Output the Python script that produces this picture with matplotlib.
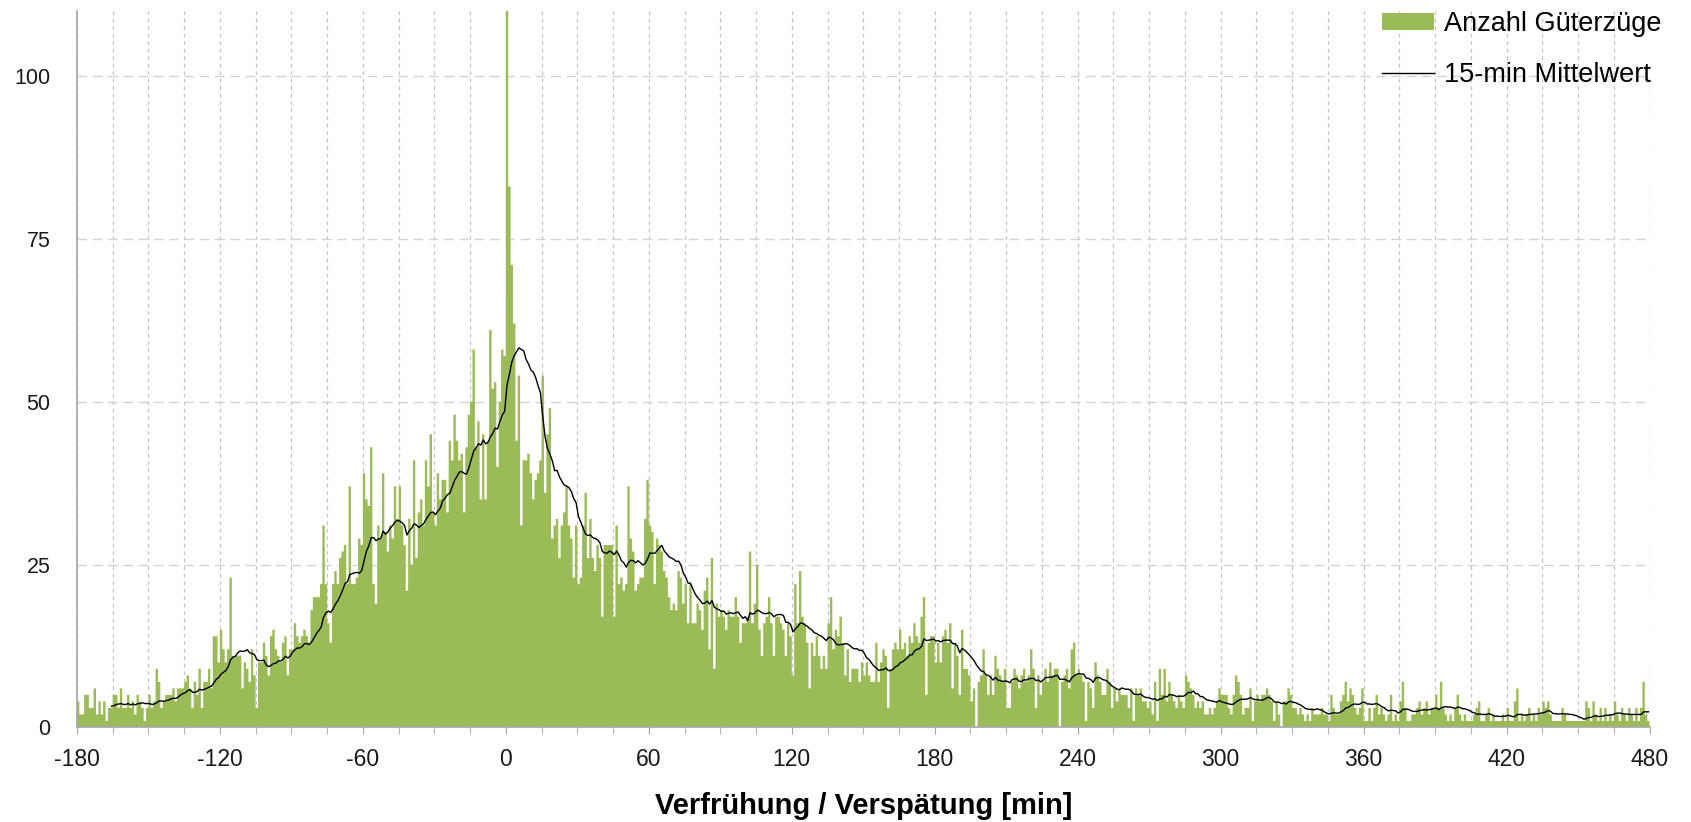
import matplotlib
matplotlib.use("Agg")
import matplotlib.pyplot as plt
from matplotlib.ticker import MultipleLocator, FixedLocator
from matplotlib.lines import Line2D
from matplotlib.patches import Patch
import numpy as np
import pandas as pd

plt.rcParams["font.family"] = ["Liberation Sans", "DejaVu Sans"]
plt.rcParams["axes.unicode_minus"] = False

# Anzahl Güterzüge je Minute Verfrühung/Verspätung, ein Array pro Stunde
counts_m180 = [4, 2, 2, 5, 5, 3, 3, 6, 2, 4, 2, 4, 1, 3, 3,
               5, 5, 3, 6, 3, 3, 5, 3, 4, 2, 5, 4, 3, 1, 3,
               5, 3, 4, 9, 7, 3, 4, 5, 5, 5, 6, 4, 6, 6, 6,
               7, 8, 6, 3, 7, 5, 9, 3, 7, 7, 9, 6, 14, 14, 10]
counts_m120 = [15, 12, 10, 12, 23, 11, 11, 11, 11, 6, 10, 9, 7, 12, 8,
               3, 10, 10, 13, 11, 8, 14, 15, 12, 11, 10, 13, 14, 8, 12,
               12, 16, 14, 13, 14, 15, 14, 13, 18, 20, 20, 20, 22, 31, 22,
               16, 13, 22, 24, 22, 26, 27, 28, 22, 37, 22, 22, 23, 29, 28]
counts_m60 = [39, 35, 34, 43, 22, 19, 31, 29, 39, 30, 27, 31, 29, 37, 32,
              37, 31, 28, 21, 32, 25, 41, 26, 33, 35, 31, 41, 37, 45, 33,
              31, 39, 35, 38, 38, 33, 44, 41, 48, 44, 41, 42, 33, 43, 48,
              50, 58, 43, 47, 35, 45, 35, 44, 61, 52, 53, 40, 50, 58, 57]
counts_0 = [110, 83, 71, 62, 44, 54, 31, 41, 41, 42, 39, 35, 38, 39, 41,
            54, 36, 45, 49, 29, 31, 32, 26, 31, 33, 37, 31, 29, 23, 31,
            22, 23, 31, 36, 26, 32, 26, 24, 28, 26, 17, 28, 28, 28, 28,
            17, 31, 22, 23, 21, 22, 37, 29, 27, 21, 22, 23, 23, 32, 38]
counts_60 = [31, 30, 22, 29, 28, 27, 24, 23, 20, 18, 19, 18, 24, 23, 19,
             22, 16, 22, 16, 16, 19, 18, 15, 21, 23, 12, 26, 9, 19, 17,
             18, 17, 15, 18, 17, 17, 20, 17, 13, 16, 16, 17, 27, 16, 19,
             25, 15, 11, 16, 17, 20, 16, 11, 17, 17, 16, 15, 11, 16, 14]
counts_120 = [8, 22, 16, 24, 17, 16, 13, 6, 13, 11, 14, 11, 9, 11, 9,
              16, 20, 12, 15, 14, 17, 13, 8, 12, 7, 9, 9, 9, 7, 10,
              8, 10, 8, 7, 7, 13, 7, 10, 12, 11, 3, 9, 12, 13, 12,
              15, 12, 13, 11, 14, 13, 16, 14, 13, 17, 20, 5, 13, 14, 14]
counts_180 = [10, 13, 10, 14, 15, 13, 16, 6, 13, 11, 5, 15, 9, 9, 8,
              4, 6, 0, 7, 8, 12, 8, 5, 8, 5, 11, 9, 8, 7, 9,
              3, 3, 7, 9, 8, 6, 8, 9, 7, 8, 12, 9, 3, 8, 5,
              7, 9, 7, 10, 8, 9, 9, 0, 7, 8, 9, 6, 12, 13, 8]
counts_240 = [9, 8, 7, 1, 7, 6, 3, 10, 8, 7, 5, 5, 9, 7, 3,
              6, 4, 6, 5, 5, 5, 3, 6, 1, 6, 5, 6, 4, 4, 3,
              4, 2, 7, 1, 9, 5, 9, 4, 7, 5, 4, 3, 5, 4, 3,
              8, 7, 6, 5, 3, 4, 3, 4, 2, 2, 3, 2, 3, 4, 6]
counts_300 = [5, 5, 5, 3, 2, 5, 8, 7, 5, 2, 3, 3, 6, 1, 4,
              5, 4, 5, 5, 6, 5, 4, 1, 4, 2, 0, 4, 4, 6, 5,
              3, 3, 2, 3, 2, 1, 2, 1, 3, 2, 2, 2, 3, 2, 2,
              1, 5, 3, 2, 2, 4, 5, 7, 4, 6, 5, 3, 2, 3, 6]
counts_360 = [1, 1, 3, 1, 3, 5, 2, 3, 2, 1, 2, 5, 1, 2, 1,
              4, 7, 3, 1, 1, 2, 2, 3, 4, 2, 3, 4, 2, 3, 3,
              5, 3, 7, 3, 2, 1, 2, 1, 3, 5, 2, 1, 2, 1, 1,
              1, 2, 3, 4, 1, 1, 2, 3, 1, 2, 1, 1, 1, 2, 1]
counts_420 = [3, 1, 1, 4, 6, 1, 2, 1, 2, 3, 1, 2, 1, 3, 2,
              4, 3, 4, 2, 1, 1, 1, 1, 3, 2, 1, 1, 1, 1, 1,
              1, 1, 1, 4, 3, 1, 4, 2, 1, 3, 1, 3, 1, 2, 1,
              4, 2, 1, 3, 2, 1, 3, 2, 1, 3, 1, 3, 7, 2, 1]

counts = np.concatenate([counts_m180, counts_m120, counts_m60, counts_0,
                         counts_60, counts_120, counts_180, counts_240,
                         counts_300, counts_360, counts_420])
edges = np.arange(-180, 481)
ma15 = pd.Series(counts).rolling(15).mean()

fig = plt.figure(figsize=(16.91, 8.22), dpi=100)
ax = fig.add_axes([0.0455, 0.115, 0.930, 0.872])

ax.stairs(counts, edges, fill=True, color="#9bbb59", linewidth=0,
          zorder=2)
ax.plot(edges[:-1] + 0.5, ma15, color="black", linewidth=1.0, zorder=3)

ax.set_xlim(-180, 480)
ax.set_ylim(0, 110)
ax.xaxis.set_major_locator(MultipleLocator(60))
ax.xaxis.set_minor_locator(MultipleLocator(15))
ax.yaxis.set_major_locator(FixedLocator([0, 25, 50, 75, 100]))

ax.grid(axis="x", which="both", color="#c4c4c4", linestyle=(0, (3, 3)),
        linewidth=0.9, zorder=0)
ax.grid(axis="y", which="major", color="#d4d4d4", linestyle=(0, (7, 4)),
        linewidth=1.0, zorder=0)
ax.set_axisbelow(True)

for s in ["top", "right"]:
    ax.spines[s].set_visible(False)
for s in ["left", "bottom"]:
    ax.spines[s].set_color("#a6a6a6")
    ax.spines[s].set_linewidth(1.2)

ax.tick_params(axis="x", which="both", length=5, color="#a6a6a6",
               labelsize=16.5, pad=10, labelcolor="#1a1a1a")
ax.tick_params(axis="y", length=0, pad=19, labelsize=15.5,
               labelcolor="#1a1a1a")

ax.set_xlabel("Verfrühung / Verspätung [min]", fontsize=21,
              fontweight="bold", labelpad=15)

handles = [Patch(facecolor="#9bbb59", edgecolor="none"),
           Line2D([], [], color="black", linewidth=1.0)]
ax.legend(handles, ["Anzahl Güterzüge", "15-min Mittelwert"],
          loc="upper right", bbox_to_anchor=(1.011, 1.007), frameon=False,
          fontsize=19.5, handlelength=1.95, handleheight=0.55,
          handletextpad=0.35, labelspacing=0.92, borderaxespad=0,
          borderpad=0.2)

fig.savefig("out.png", dpi=100)
